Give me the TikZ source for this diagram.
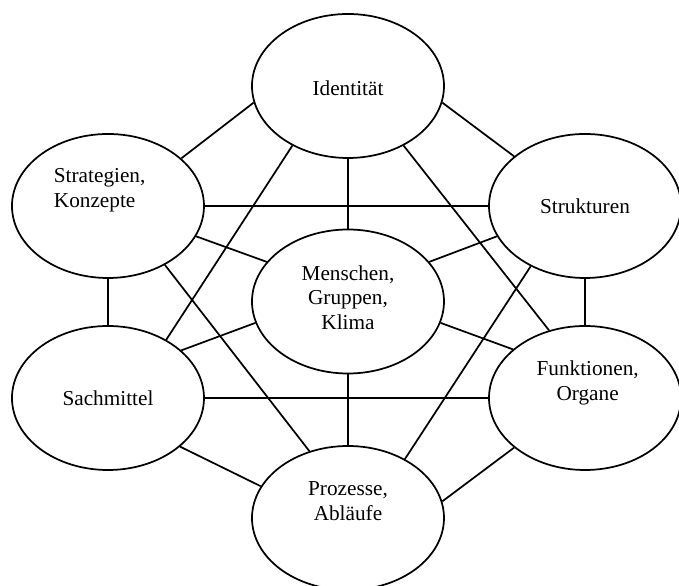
\documentclass[tikz,border=0pt]{standalone}
\usepackage{fontspec}
\setmainfont{Liberation Serif}
\usetikzlibrary{calc,shapes.geometric}

\begin{document}
\begin{tikzpicture}[
  bubble/.style={draw, ellipse, line width=1.3pt, minimum width=5.08cm, minimum height=3.81cm, inner sep=0pt},
  txt/.style={font=\fontsize{16}{18.5}\selectfont, align=center, inner sep=0pt},
  link/.style={line width=1.3pt}
]

% Fix the page size
\useasboundingbox (0,0) rectangle (17.965,15.478);

% Define ellipses
\node[bubble] (ident)  at (9.207,13.203) {};
\node[bubble] (strat)  at (2.857,10.028) {};
\node[bubble] (struk)  at (15.478,10.028) {};
\node[bubble] (mensch) at (9.207,7.501) {};
\node[bubble] (sach)   at (2.857,4.948) {};
\node[bubble] (funk)   at (15.478,4.948) {};
\node[bubble] (proz)   at (9.207,1.773) {};

% Texts
\node[txt] (ident-t)  at ($(ident)+(0,-0.05)$) {Identität};
\node[txt, align=left] (strat-t) at ($(strat)+(-0.22,0.42)$) {Strategien,\\Konzepte};
\node[txt] (struk-t)  at (struk) {Strukturen};
\node[txt] (mensch-t) at ($(mensch)+(0,0.1)$) {Menschen,\\Gruppen,\\Klima};
\node[txt] (sach-t)   at (sach) {Sachmittel};
\node[txt] (funk-t)   at ($(funk)+(0.07,0.4)$) {Funktionen,\\Organe};
\node[txt] (proz-t)   at ($(proz)+(0,0.45)$) {Prozesse,\\Abläufe};

% Lines from Identitaet
\draw[link] (ident.190) -- (strat.33);
\draw[link] (ident.350) -- (struk.145);
\draw[link] (ident.south) -- (mensch.north);
\draw[link] (ident.227) -- (sach.45);
\draw[link] (ident.313) -- (funk.118);

% Lines from Strategien and Strukturen
\draw[link] (strat.east) -- (struk.west);
\draw[link] (strat.341) -- (mensch.154);
\draw[link] (strat.south) -- (sach.north);
\draw[link] (strat.314) -- (proz.120);
\draw[link] (struk.199) -- (mensch.26);
\draw[link] (struk.south) -- (funk.north);
\draw[link] (struk.228) -- (proz.46);

% Lines from the middle
\draw[link] (mensch.193) -- (sach.33);
\draw[link] (mensch.347) -- (funk.146);
\draw[link] (mensch.south) -- (proz.north);

% Lower lines
\draw[link] (sach.east) -- (funk.west);
\draw[link] (sach.326) -- (proz.160);
\draw[link] (funk.215) -- (proz.10);

\end{tikzpicture}
\end{document}
